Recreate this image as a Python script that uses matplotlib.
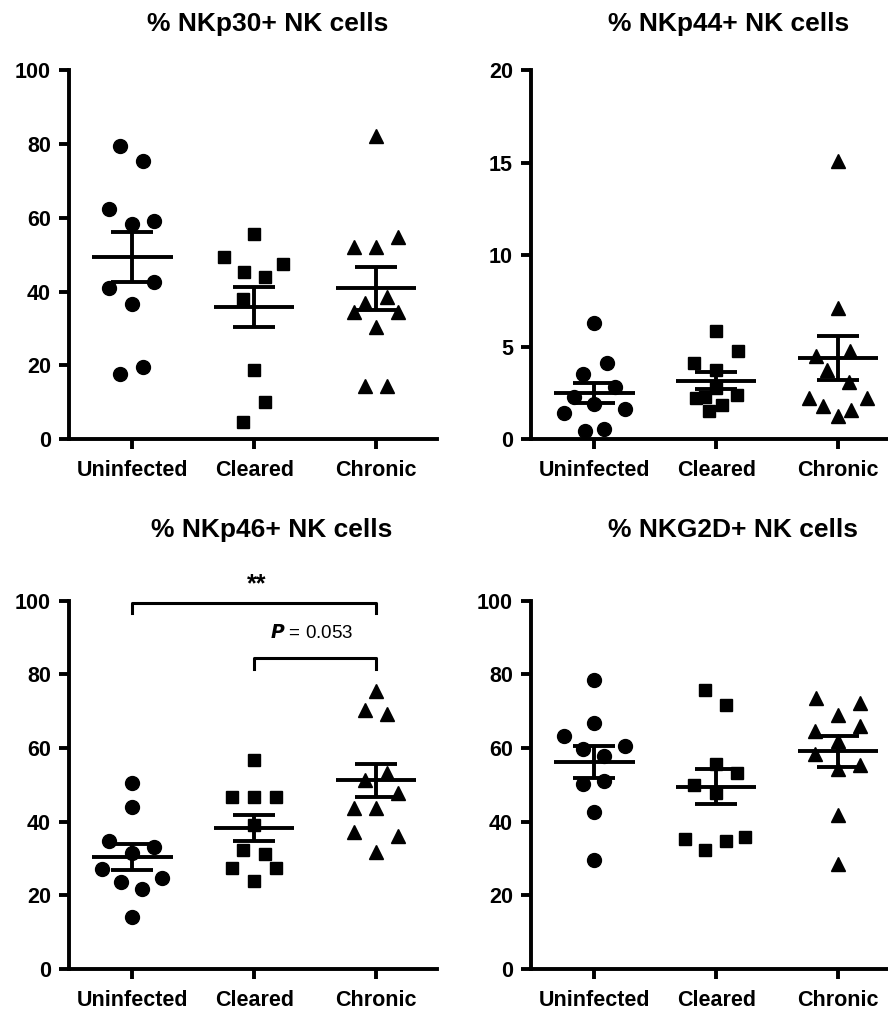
import matplotlib
matplotlib.use('Agg')
import matplotlib.pyplot as plt

plt.rcParams['font.family'] = ['Liberation Sans', 'DejaVu Sans']
plt.rcParams['font.weight'] = 'bold'

# ------------------------------------------------------------
# Data
# ------------------------------------------------------------
groups = ['Uninfected', 'Cleared', 'Chronic']
titles = ['% NKp30+ NK cells', '% NKp44+ NK cells',
          '% NKp46+ NK cells', '% NKG2D+ NK cells']

nkp30_uninf = [79.6, 75.3, 62.4, 58.4, 59.1, 41.0, 42.6, 36.7, 17.5, 19.5]
nkp30_clear = [55.6, 49.5, 45.2, 43.9, 47.6, 38.0, 18.8, 10.0, 4.5]
nkp30_chron = [82.3, 52.1, 52.1, 54.8, 36.9, 38.5, 34.4, 34.4, 30.4, 14.5, 14.5]
nkp30_mean = [49.4, 35.8, 40.9]
nkp30_sem = [6.8, 5.5, 5.8]

nkp44_uninf = [6.3, 4.1, 3.5, 1.4, 0.45, 0.55, 1.6, 1.9, 2.3, 2.8]
nkp44_clear = [5.85, 4.75, 4.1, 3.75, 2.3, 2.4, 2.2, 1.85, 1.5, 2.75]
nkp44_chron = [15.1, 7.1, 4.5, 4.75, 3.75, 3.1, 2.25, 2.2, 1.8, 1.55, 1.25]
nkp44_mean = [2.49, 3.16, 4.39]
nkp44_sem = [0.54, 0.45, 1.2]

nkp46_uninf = [50.4, 44.1, 34.8, 33.2, 31.4, 27.1, 24.6, 23.7, 21.7, 14.0]
nkp46_clear = [56.8, 46.6, 46.6, 46.6, 39.2, 32.4, 31.2, 27.4, 27.4, 23.8]
nkp46_chron = [75.6, 70.4, 69.3, 51.4, 53.2, 47.7, 43.6, 43.6, 37.3, 36.1, 31.9]
nkp46_mean = [30.5, 38.3, 51.2]
nkp46_sem = [3.5, 3.4, 4.5]

nkg2d_uninf = [78.5, 66.7, 63.3, 60.6, 59.7, 57.9, 50.2, 51.1, 42.6, 29.7]
nkg2d_clear = [75.8, 71.6, 55.6, 53.2, 50.0, 47.9, 35.3, 32.4, 34.9, 35.8]
nkg2d_chron = [73.7, 72.3, 69.0, 64.7, 66.0, 61.9, 58.5, 55.4, 54.3, 41.7, 28.6]
nkg2d_mean = [56.2, 49.5, 59.1]
nkg2d_sem = [4.3, 4.8, 4.3]

# horizontal scatter offsets of the points (layout only)
off30 = [[-0.1, 0.09, -0.19, 0, 0.18, -0.19, 0.18, 0, -0.1, 0.09],
         [0, -0.25, -0.08, 0.09, 0.24, -0.09, 0, 0.09, -0.09],
         [0, -0.18, 0, 0.18, -0.09, 0.09, -0.18, 0.18, 0, -0.09, 0.09]]
off44 = [[0, 0.1, -0.09, -0.25, -0.08, 0.08, 0.25, 0, -0.17, 0.17],
         [0, 0.18, -0.18, 0, -0.09, 0.17, -0.17, 0.05, -0.06, 0],
         [0, 0, -0.18, 0.1, -0.09, 0.09, -0.24, 0.24, -0.12, 0.11, 0]]
off46 = [[0, 0, -0.19, 0.18, 0, -0.25, 0.24, -0.09, 0.08, 0],
         [0, -0.18, 0, 0.18, 0, -0.09, 0.09, -0.18, 0.18, 0],
         [0, -0.09, 0.09, -0.09, 0.09, 0.18, -0.18, 0, -0.18, 0.18, 0]]
offg2 = [[0, 0, -0.25, 0.25, -0.09, 0.08, -0.09, 0.08, 0, 0],
         [-0.09, 0.08, 0, 0.17, -0.18, 0, -0.26, -0.09, 0.08, 0.24],
         [-0.18, 0.18, 0, -0.19, 0.18, 0, -0.19, 0.18, 0, 0, 0]]

markers = ['o', 's', '^']
msizes = [10, 9.3, 10.5]

fig = plt.figure(figsize=(8.88, 10.11), dpi=100)

axes_pos = [
    [0.0777, 0.5658, 0.4144, 0.3645],
    [0.598, 0.5658, 0.4144, 0.3645],
    [0.0777, 0.0415, 0.4144, 0.3643],
    [0.598, 0.0415, 0.4144, 0.3643],
]
title_xy = [(0.302, 0.976), (0.820, 0.976), (0.306, 0.476), (0.825, 0.476)]

panels = [
    ([nkp30_uninf, nkp30_clear, nkp30_chron], off30, nkp30_mean, nkp30_sem, 100, 20),
    ([nkp44_uninf, nkp44_clear, nkp44_chron], off44, nkp44_mean, nkp44_sem, 20, 5),
    ([nkp46_uninf, nkp46_clear, nkp46_chron], off46, nkp46_mean, nkp46_sem, 100, 20),
    ([nkg2d_uninf, nkg2d_clear, nkg2d_chron], offg2, nkg2d_mean, nkg2d_sem, 100, 20),
]

lw = 2.8
axs = []
for i, (vals, offs, means, sems, ymax, ystep) in enumerate(panels):
    ax = fig.add_axes(axes_pos[i])
    axs.append(ax)
    for g in range(3):
        xs = [g + o for o in offs[g]]
        ax.plot(xs, vals[g], linestyle='none', marker=markers[g],
                markersize=msizes[g], color='black', clip_on=False, zorder=2)
        # mean line
        ax.hlines(means[g], g - 0.33, g + 0.33, color='black', linewidth=lw, zorder=3)
        # SEM
        ax.errorbar(g, means[g], yerr=sems[g], fmt='none', ecolor='black',
                    elinewidth=lw, capsize=15, capthick=lw, zorder=3)

    ax.set_xlim(-0.52, 2.5)
    ax.set_ylim(0, ymax)
    ax.set_yticks(range(0, ymax + 1, ystep))
    ax.set_xticks(range(3))
    ax.set_xticklabels(groups)
    for s in ['top', 'right']:
        ax.spines[s].set_visible(False)
    for s in ['left', 'bottom']:
        ax.spines[s].set_linewidth(lw)
    ax.tick_params(axis='both', width=lw, length=7, labelsize=15.5, pad=6)
    ax.tick_params(axis='x', pad=8)
    for lab in ax.get_xticklabels() + ax.get_yticklabels():
        lab.set_fontweight('bold')
    fig.text(title_xy[i][0], title_xy[i][1], titles[i], ha='center', va='center',
             fontsize=19, fontweight='bold')

# significance brackets on NKp46 panel
ax = axs[2]
ax.plot([0, 0, 2, 2], [96.6, 99.3, 99.3, 96.6], color='black', linewidth=2.2, clip_on=False)
ax.text(1.02, 104.5, '**', ha='center', va='center', fontsize=18, fontweight='bold')
ax.plot([1, 1, 2, 2], [81.6, 84.5, 84.5, 81.6], color='black', linewidth=2.2, clip_on=False)
ax.text(1.47, 91.2, r'$\bf{\it{P}}$ = 0.053', ha='center', va='center',
        fontsize=13.5, fontweight='normal')

fig.savefig('out.png', dpi=100)
